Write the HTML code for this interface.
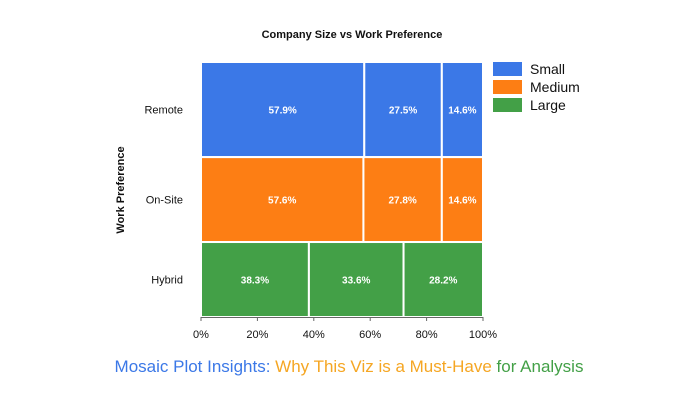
<!DOCTYPE html>
<html><head><meta charset="utf-8"><style>
body{margin:0;background:#fff;font-family:"Liberation Sans",sans-serif}
svg text{font-family:"Liberation Sans",sans-serif}
</style></head><body>
<svg width="698" height="400">
<text x="352" y="38" text-anchor="middle" font-size="11" font-weight="bold" fill="#111">Company Size vs Work Preference</text>
<text transform="translate(124,190) rotate(-90)" text-anchor="middle" font-size="11" font-weight="bold" fill="#111">Work Preference</text>
<g id="plot"></g>
<g id="legend"></g>
<text x="349" y="372" text-anchor="middle" font-size="17"><tspan fill="#3b78e7">Mosaic Plot Insights:</tspan><tspan fill="#f5a623"> Why This Viz is a Must-Have</tspan><tspan fill="#43a047"> for Analysis</tspan></text>
</svg>
<script>
const rows=["Remote","On-Site","Hybrid"];
const rowWeights=[37.3,33.3,29.4];
const remoteVals=[57.9,27.5,14.6];
const onsiteVals=[57.6,27.8,14.6];
const hybridVals=[38.3,33.6,28.2];
const seriesNames=["Small","Medium","Large"];
const ticks=[0,20,40,60,80,100];
const rowColors=["#3b78e7","#fd7e14","#43a047"];
const NS="http://www.w3.org/2000/svg";
const X0=201,X1=483,Y0=62,Y1=317;
const x=v=>X0+(X1-X0)*v/100;
const vals=[remoteVals,onsiteVals,hybridVals];
const plot=document.getElementById('plot');
function mk(t,a,p){const e=document.createElementNS(NS,t);for(const k in a)e.setAttribute(k,a[k]);p.appendChild(e);return e;}
const tw=rowWeights.reduce((a,b)=>a+b,0);
let yc=Y0;
rows.forEach((r,i)=>{
  const h=(Y1-Y0)*rowWeights[i]/tw;
  const tot=vals[i].reduce((a,b)=>a+b,0);
  let c=0;
  vals[i].forEach((v,j)=>{
    const xa=x(c/tot*100),xb=x((c+v)/tot*100);
    const rc=mk('rect',{x:xa,y:yc,width:xb-xa,height:h,fill:rowColors[i],stroke:'#fff','stroke-width':2},plot);
    
    
    const t=mk('text',{x:(xa+xb)/2,y:yc+h/2+4,'text-anchor':'middle','font-size':10,'font-weight':'bold',fill:'#fff'},plot);
    t.textContent=v.toFixed(1)+'%';
    
    
    c+=v;
  });
  const yl=mk('text',{x:183,y:yc+h/2+4,'text-anchor':'end','font-size':11,fill:'#111'},plot);
  yl.textContent=r;
  
  
  yc+=h;
});
mk('line',{x1:X0,x2:X1,y1:Y1+0.5,y2:Y1+0.5,stroke:'#666'},plot);
ticks.forEach(t=>{
  mk('line',{x1:x(t),x2:x(t),y1:Y1,y2:Y1+4,stroke:'#666'},plot);
  const l=mk('text',{x:x(t),y:338,'text-anchor':'middle','font-size':11,fill:'#111'},plot);
  l.textContent=t+'%';
  
  
});
const lg=document.getElementById('legend');
seriesNames.forEach((s,i)=>{
  const r=mk('rect',{x:493,y:62+i*18,width:29,height:14,fill:rowColors[i]},lg);
  
  
  const t=mk('text',{x:530,y:74+i*18,'font-size':14,fill:'#111'},lg);
  t.textContent=s;
  
  
});
</script>
</body></html>
